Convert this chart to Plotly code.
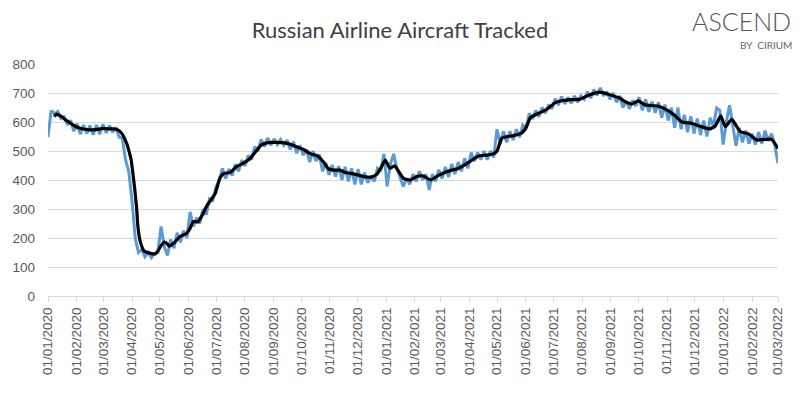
import pandas as pd
import plotly.graph_objects as go

# ---- data ----
start_date = "2020-01-01"
end_date = "2022-03-01"

# daily tracked aircraft, sampled about every 3.5 days (alternating weekly highs/lows)
blue_values = [
    548, 640, 628, 636, 612, 618, 590, 606, 568, 594,
    558, 590, 560, 588, 556, 590, 558, 592, 562, 588,
    565, 582, 548, 545, 470, 430, 330, 200, 150, 160,
    135, 150, 132, 148, 150, 240, 170, 140, 195, 165,
    218, 185, 225, 200, 290, 240, 270, 250, 300, 280,
    335, 330, 375, 400, 440, 405, 438, 415, 455, 430,
    468, 448, 485, 470, 515, 500, 540, 515, 545, 520,
    542, 522, 540, 520, 538, 505, 532, 492, 520, 485,
    505, 462, 500, 465, 488, 430, 460, 418, 452, 412,
    448, 400, 445, 395, 440, 385, 438, 385, 425, 390,
    415, 395, 440, 430, 490, 378, 455, 490, 440, 410,
    378, 405, 385, 420, 395, 430, 400, 420, 366, 420,
    395, 435, 405, 445, 410, 455, 420, 462, 430, 475,
    440, 495, 465, 495, 470, 500, 470, 500, 478, 575,
    525, 568, 530, 568, 538, 575, 548, 590, 580, 630,
    610, 640, 618, 650, 630, 660, 645, 680, 658, 688,
    662, 685, 665, 690, 668, 690, 678, 705, 682, 712,
    692, 718, 690, 705, 678, 700, 668, 690, 650, 672,
    645, 675, 655, 685, 640, 678, 635, 670, 632, 668,
    615, 660, 605, 650, 580, 650, 575, 625, 565, 620,
    560, 612, 555, 605, 550, 615, 585, 648, 640, 522,
    600, 658, 580, 518, 580, 530, 570, 525, 560, 522,
    565, 525, 570, 535, 560, 520, 458,
]

# 7-day average: day offsets from start_date and values
avg_days = [
    7, 9, 14, 20, 27, 33, 38, 45, 52, 60, 66, 72, 76, 80, 85, 88, 90, 92, 94, 96,
    97, 99, 101, 104, 110, 116, 119, 122, 126, 129, 131, 136, 143, 150, 154, 157,
    162, 168, 172, 176, 181, 186, 190, 197, 204, 211, 219, 226, 231, 238, 247, 256,
    262, 269, 276, 285, 291, 298, 303, 309, 316, 321, 332, 343, 350, 356, 361, 365,
    370, 375, 379, 385, 392, 399, 406, 414, 422, 430, 437, 444, 451, 459, 466, 475,
    482, 486, 491, 496, 504, 513, 518, 522, 531, 540, 549, 558, 567, 576, 585, 597,
    608, 619, 624, 632, 639, 646, 660, 671, 679, 686, 697, 707, 716, 722, 728, 733,
    740, 749, 758, 767, 776, 783, 790,
]
avg_values = [
    618, 627, 620, 605, 590, 580, 576, 573, 574, 578, 576, 576, 572, 560, 527, 495, 469, 420, 365, 300,
    250, 200, 175, 155, 148, 145, 155, 172, 186, 180, 172, 182, 205, 216, 235, 256,
    256, 285, 312, 330, 354, 406, 422, 426, 446, 457, 475, 503, 521, 529, 530, 528,
    523, 515, 506, 489, 484, 463, 440, 434, 434, 427, 420, 411, 410, 420, 446, 469,
    440, 449, 432, 405, 400, 412, 414, 400, 415, 427, 434, 440, 452, 469, 483, 486,
    490, 500, 544, 549, 553, 563, 585, 615, 630, 644, 667, 674, 677, 679, 692, 703,
    694, 682, 671, 662, 673, 659, 655, 639, 621, 600, 595, 584, 576, 586, 621, 584,
    609, 567, 559, 538, 540, 540, 509,
]

y_ticks = [0, 100, 200, 300, 400, 500, 600, 700, 800]

# ---- build ----
blue_dates = pd.date_range(start_date, end_date, periods=len(blue_values))
avg_dates = [pd.Timestamp(start_date) + pd.Timedelta(days=d) for d in avg_days]

fig = go.Figure()
fig.add_trace(go.Scatter(x=blue_dates, y=blue_values, mode="lines",
                         line=dict(color="#5B9BD5", width=3), hoverinfo="skip"))
fig.add_trace(go.Scatter(x=avg_dates, y=avg_values, mode="lines",
                         line=dict(color="#000000", width=3.2, shape="spline", smoothing=0.5),
                         hoverinfo="skip"))

# the page body adds an 8px margin, so the figure is made smaller and everything shifted
OFF = 8
W, H = 800 - OFF, 395 - 2 * OFF
L, R, T = 40, 22, 56
B = H - (296 - OFF)
pw, ph = W - L - R, H - T - B


def px(xr):
    return (xr - OFF - L) / pw


def py(yr):
    return (H - B - (yr - OFF)) / ph


fig.update_layout(
    width=W, height=H,
    margin=dict(l=L, r=R, t=T, b=B, autoexpand=False),
    paper_bgcolor="white", plot_bgcolor="white",
    showlegend=False,
    title=dict(text="Russian Airline Aircraft Tracked", x=(400 - OFF) / W, xanchor="center",
               y=1 - 22 / H, yanchor="middle",
               font=dict(family="Lato, Open Sans, sans-serif", size=22, color="#404040")),
    xaxis=dict(range=[start_date, end_date], type="date", automargin=False,
               tickmode="linear", tick0=start_date, dtick="M1",
               tickformat="%d/%m/%Y", tickangle=-90,
               ticks="outside", ticklen=5, tickcolor="#D9D9D9",
               showgrid=False, showline=True, linecolor="#D9D9D9", linewidth=1,
               tickfont=dict(family="Liberation Sans, Arial, sans-serif", size=13.5, color="#595959"),
               zeroline=False),
    yaxis=dict(range=[0, 800], tickvals=y_ticks, automargin=False,
               showgrid=True, gridcolor="#D9D9D9", gridwidth=1,
               zeroline=False, showline=False, ticks="",
               ticklabelstandoff=12,
               tickfont=dict(family="Liberation Sans, Arial, sans-serif", size=13.5, color="#595959")),
    shapes=[
        dict(type="line", xref="paper", yref="paper",
             x0=px(797), x1=px(797), y0=py(54), y1=py(395),
             line=dict(color="#D9D9D9", width=1), layer="below"),
    ],
    annotations=[
        dict(text="ASCEND", xref="paper", yref="paper", x=px(793), y=py(21),
             xanchor="right", yanchor="middle", showarrow=False,
             font=dict(family="Lato, Open Sans, sans-serif", size=25, color="#555555", weight=300)),
        dict(text="BY  CIRIUM", xref="paper", yref="paper", x=px(794), y=py(45),
             xanchor="right", yanchor="middle", showarrow=False,
             font=dict(family="Lato, Open Sans, sans-serif", size=10, color="#666666")),
    ],
)

fig.write_html("out.html")
